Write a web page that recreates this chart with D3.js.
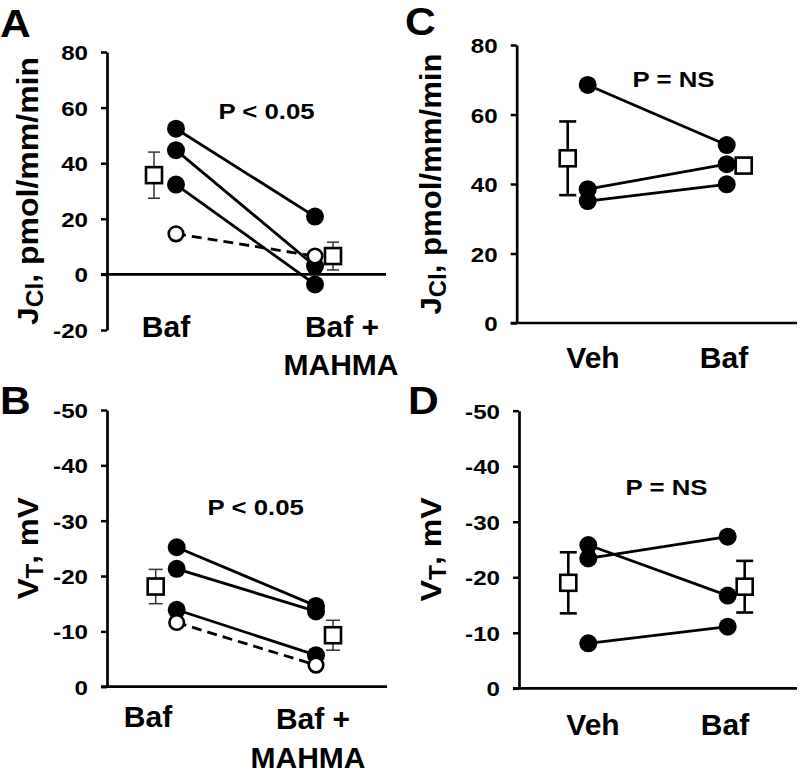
<!DOCTYPE html>
<html><head><meta charset="utf-8">
<script src="https://cdn.jsdelivr.net/npm/d3@7"></script>
<style>
html,body{margin:0;padding:0;background:#fff;}
svg{display:block;}
text{font-family:Arial,"Liberation Sans",sans-serif;font-weight:bold;fill:#000;}
</style></head><body>
<svg id="chart" width="808" height="777"></svg>
<script>
// ---------- DATA ----------
// Panel A : JCl, pmol/mm/min
const catsA = ["Baf", "Baf + MAHMA"];
const ticksA = [-20, 0, 20, 40, 60, 80];
const aFilledStart = [52.4, 44.7, 32.3];
const aFilledEnd   = [20.8, 3.0, -3.6];
const aOpenStart = [14.6];
const aOpenEnd   = [6.6];
const aMean = [35.7, 6.6];
const aSE   = [8.3, 5.0];

// Panel B : VT, mV
const catsB = ["Baf", "Baf + MAHMA"];
const ticksB = [-50, -40, -30, -20, -10, 0];
const bFilledStart = [-25.2, -21.3, -13.9];
const bFilledEnd   = [-14.6, -13.6, -5.7];
const bOpenStart = [-11.6];
const bOpenEnd   = [-3.9];
const bMean = [-18.1, -9.3];
const bSE   = [3.1, 2.7];

// Panel C : JCl, pmol/mm/min
const catsC = ["Veh", "Baf"];
const ticksC = [0, 20, 40, 60, 80];
const cFilledStart = [68.5, 38.5, 35.1];
const cFilledEnd   = [51.2, 45.7, 39.9];
const cMean = [47.4, 45.3];
const cSE   = [10.6, 2.0];

// Panel D : VT, mV
const catsD = ["Veh", "Baf"];
const ticksD = [-50, -40, -30, -20, -10, 0];
const dFilledStart = [-25.8, -23.4, -8.1];
const dFilledEnd   = [-16.7, -27.3, -11.1];
const dMean = [-19.0, -18.3];
const dSE   = [5.5, 4.65];

// ---------- DRAW ----------
const svg = d3.select("#chart");

function stretch(sel, k) {
  sel.each(function () {
    const w = this.getComputedTextLength();
    d3.select(this).attr("textLength", w * k).attr("lengthAdjust", "spacingAndGlyphs");
  });
}

function drawPanel(cfg) {
  const g = svg.append("g");
  const y = d3.scaleLinear().domain(cfg.yDomain).range(cfg.yRange);
  const x = d3.scalePoint().domain(cfg.cats).range(cfg.xRange);

  // y axis
  const ax = g.append("g").attr("transform", `translate(${cfg.axisX},0)`)
    .call(d3.axisLeft(y).tickValues(cfg.ticks).tickSize(6).tickSizeOuter(0).tickPadding(13)
      .tickFormat(d => String(d)));
  ax.attr("font-family", null).attr("font-size", null);
  ax.select(".domain").attr("stroke", "#000").attr("stroke-width", 2.7);
  ax.selectAll(".tick line").attr("stroke", "#000").attr("stroke-width", 2.5);
  ax.selectAll(".tick text").attr("font-size", 21)
    .attr("dy", "0.36em").call(stretch, 1.15);

  // x axis line at zero
  g.append("line").attr("x1", cfg.axisX - 6).attr("x2", cfg.xEnd)
    .attr("y1", y(0)).attr("y2", y(0)).attr("stroke", "#000").attr("stroke-width", 2.7);

  const c0 = cfg.cats[0], c1 = cfg.cats[1];

  // connecting lines
  cfg.filledStart.forEach((v, i) => {
    g.append("line").attr("x1", x(c0)).attr("y1", y(v))
      .attr("x2", x(c1)).attr("y2", y(cfg.filledEnd[i]))
      .attr("stroke", "#000").attr("stroke-width", 2.8);
  });
  (cfg.openStart || []).forEach((v, i) => {
    g.append("line").attr("x1", x(c0)).attr("y1", y(v))
      .attr("x2", x(c1)).attr("y2", y(cfg.openEnd[i]))
      .attr("stroke", "#000").attr("stroke-width", 2.8).attr("stroke-dasharray", "10,6");
  });

  // mean +/- SE
  cfg.mean.forEach((m, i) => {
    const cx = x(cfg.cats[i]) + cfg.meanOffset[i];
    const se = cfg.se[i];
    g.append("line").attr("x1", cx).attr("x2", cx).attr("y1", y(m - se)).attr("y2", y(m + se))
      .attr("stroke", cfg.errColor).attr("stroke-width", cfg.errWidth);
    [m - se, m + se].forEach(v => {
      g.append("line").attr("x1", cx - cfg.capW / 2).attr("x2", cx + cfg.capW / 2)
        .attr("y1", y(v)).attr("y2", y(v))
        .attr("stroke", cfg.errColor).attr("stroke-width", cfg.errWidth);
    });
    g.append("rect").attr("x", cx - 8).attr("y", y(m) - 8).attr("width", 16).attr("height", 16)
      .attr("fill", "#fff").attr("stroke", "#000").attr("stroke-width", 2.6);
  });

  // filled circles
  cfg.filledStart.forEach(v => g.append("circle").attr("cx", x(c0)).attr("cy", y(v)).attr("r", 9).attr("fill", "#000"));
  cfg.filledEnd.forEach(v => g.append("circle").attr("cx", x(c1)).attr("cy", y(v)).attr("r", 9).attr("fill", "#000"));
  // open circles
  (cfg.openStart || []).forEach(v => g.append("circle").attr("cx", x(c0)).attr("cy", y(v)).attr("r", 7.3)
    .attr("fill", "#fff").attr("stroke", "#000").attr("stroke-width", 2.6));
  (cfg.openEnd || []).forEach(v => g.append("circle").attr("cx", x(c1)).attr("cy", y(v)).attr("r", 7.3)
    .attr("fill", "#fff").attr("stroke", "#000").attr("stroke-width", 2.6));

  // category labels
  cfg.catLabels.forEach(l => {
    g.append("text").attr("x", l.x).attr("y", l.y).attr("text-anchor", "middle")
      .attr("font-size", 30).text(l.t);
  });

  // P text
  g.append("text").attr("x", cfg.pPos[0]).attr("y", cfg.pPos[1]).attr("text-anchor", "middle")
    .attr("font-size", 22).text(cfg.pText).call(stretch, 1.17);

  // y title (rotated) with subscript
  const yc = (cfg.yRange[0] + cfg.yRange[1]) / 2;
  const t = g.append("text").attr("transform", `translate(${cfg.titleX},${yc}) rotate(-90)`)
    .attr("text-anchor", "middle").attr("font-size", 30);
  t.append("tspan").text(cfg.title[0]);
  t.append("tspan").attr("font-size", 23).attr("dy", 5).text(cfg.title[1]);
  t.append("tspan").attr("dy", -5).text(cfg.title[2]);
  t.attr("textLength", cfg.titleLen).attr("lengthAdjust", "spacingAndGlyphs");

  // panel letter
  g.append("text").attr("x", cfg.letterPos[0]).attr("y", cfg.letterPos[1])
    .attr("font-size", 38).text(cfg.letter).call(stretch, 1.12);
}

drawPanel({
  letter: "A", letterPos: [0, 37],
  cats: catsA, ticks: ticksA, yDomain: [-20, 80], yRange: [330, 52],
  xRange: [176, 315], axisX: 107, xEnd: 386,
  filledStart: aFilledStart, filledEnd: aFilledEnd, openStart: aOpenStart, openEnd: aOpenEnd,
  mean: aMean, se: aSE, meanOffset: [-22, 18], errColor: "#333", errWidth: 1.5, capW: 12,
  catLabels: [{t: "Baf", x: 166, y: 337}, {t: "Baf +", x: 342, y: 337}, {t: "MAHMA", x: 341, y: 375}],
  pText: "P < 0.05", pPos: [266.5, 119],
  title: ["J", "Cl", ", pmol/mm/min"], titleX: 38, titleLen: 268
});

drawPanel({
  letter: "B", letterPos: [0, 414],
  cats: catsB, ticks: ticksB, yDomain: [0, -50], yRange: [686.7, 410],
  xRange: [176.7, 316], axisX: 107, xEnd: 387,
  filledStart: bFilledStart, filledEnd: bFilledEnd, openStart: bOpenStart, openEnd: bOpenEnd,
  mean: bMean, se: bSE, meanOffset: [-21, 17], errColor: "#333", errWidth: 1.5, capW: 14,
  catLabels: [{t: "Baf", x: 148, y: 727}, {t: "Baf +", x: 313, y: 729}, {t: "MAHMA", x: 308, y: 768}],
  pText: "P < 0.05", pPos: [255.7, 515],
  title: ["V", "T", ", mV"], titleX: 38, titleLen: 102
});

drawPanel({
  letter: "C", letterPos: [405, 35],
  cats: catsC, ticks: ticksC, yDomain: [0, 80], yRange: [323, 45],
  xRange: [587.7, 726.7], axisX: 516.7, xEnd: 797,
  filledStart: cFilledStart, filledEnd: cFilledEnd,
  mean: cMean, se: cSE, meanOffset: [-20, 17], errColor: "#000", errWidth: 2.6, capW: 17,
  catLabels: [{t: "Veh", x: 593, y: 368}, {t: "Baf", x: 724, y: 368}],
  pText: "P = NS", pPos: [673.5, 87],
  title: ["J", "Cl", ", pmol/mm/min"], titleX: 441, titleLen: 261
});

drawPanel({
  letter: "D", letterPos: [408, 414],
  cats: catsD, ticks: ticksD, yDomain: [0, -50], yRange: [688.3, 410.7],
  xRange: [588.3, 727.7], axisX: 519, xEnd: 797,
  filledStart: dFilledStart, filledEnd: dFilledEnd,
  mean: dMean, se: dSE, meanOffset: [-20, 17], errColor: "#000", errWidth: 2.6, capW: 17,
  catLabels: [{t: "Veh", x: 593, y: 735}, {t: "Baf", x: 725, y: 735}],
  pText: "P = NS", pPos: [666.5, 495],
  title: ["V", "T", ", mV"], titleX: 441, titleLen: 104
});
</script>
</body></html>
